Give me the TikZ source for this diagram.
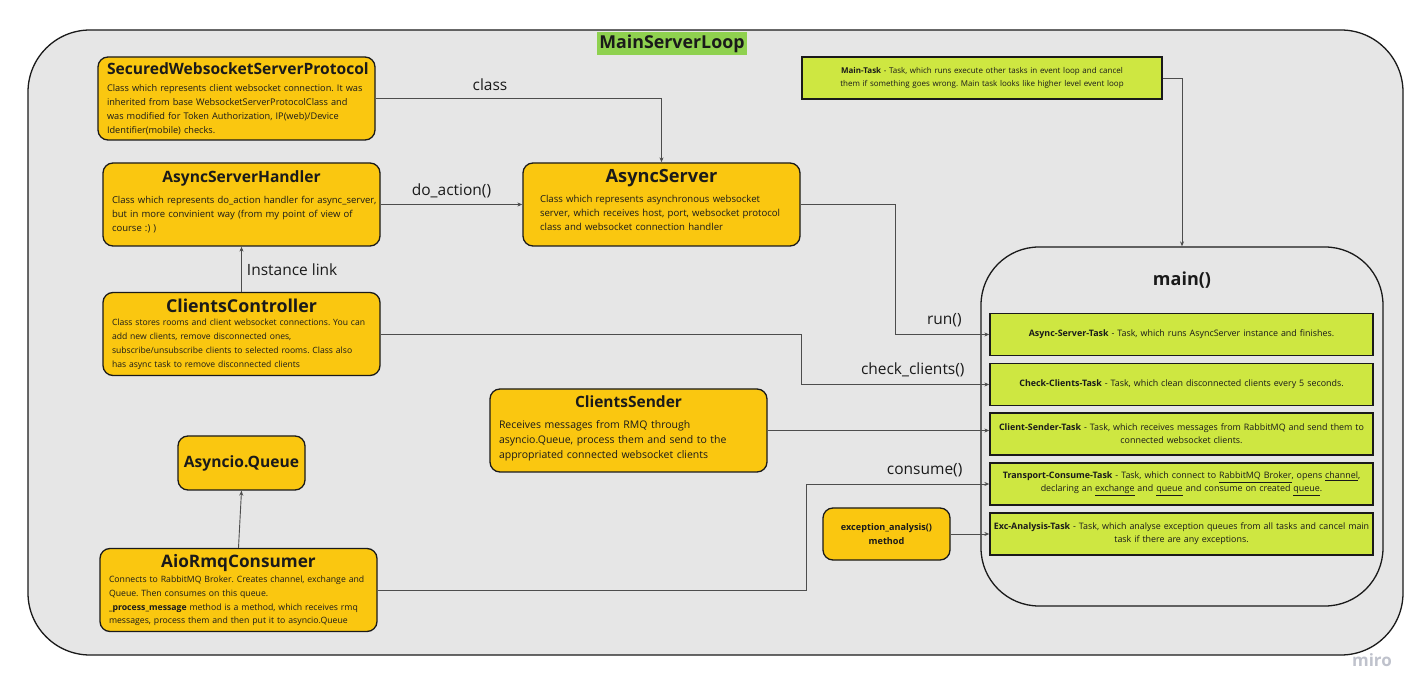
\documentclass[tikz,border=0pt]{standalone}
\usepackage{fontspec}
\setmainfont{Open Sans}
\frenchspacing
\usetikzlibrary{arrows.meta,positioning}
\definecolor{clsyellow}{HTML}{FAC710}
\definecolor{taskgreen}{HTML}{CEE741}
\definecolor{loopgreen}{HTML}{8FD14F}
\definecolor{loopgray}{HTML}{E6E6E6}
\definecolor{ink}{HTML}{1A1A1A}
\definecolor{wire}{HTML}{4D4D4D}
\definecolor{miromark}{HTML}{BFC2CC}

\begin{document}
\begin{tikzpicture}[x=1pt, y=-1pt,
      box/.style={draw=ink, line width=1.3pt, text=ink},
      ybox/.style={box, fill=clsyellow, rounded corners=10pt},
      cls/.style={ybox, align=left, text width=259pt, minimum height=83pt, inner xsep=9pt,
                  font=\fontsize{9.2}{13.8}\selectfont},
      task/.style={box, fill=taskgreen, align=center, text width=379pt, inner xsep=2pt,
                   minimum width=383pt, minimum height=42pt,
                   font=\fontsize{8.9}{13}\selectfont},
      cont/.style={draw=ink, line width=1.3pt, fill=loopgray},
      lbl/.style={font=\fontsize{15.5}{18}\selectfont, text=ink, inner sep=2pt},
      arr/.style={-{Stealth[length=5pt,width=4pt]}, wire, line width=0.9pt}]
    \useasboundingbox (0,0) rectangle (1428,700);
    % containers
    \node[cont, rounded corners=62pt, minimum width=1375pt, minimum height=625pt] (loop) at (715.5,342.5) {};
    \node[fill=loopgreen, inner xsep=2pt, inner ysep=2.5pt, font=\fontsize{17.8}{20}\selectfont\bfseries, text=ink] (looptitle) at (672,43.5) {MainServerLoop};
    \node[cont, rounded corners=58pt, minimum width=402pt, minimum height=359pt] (mainbox) at (1182,426.5) {};
    \node[font=\fontsize{18}{21}\selectfont\bfseries, text=ink] (maintitle) at (1182,280) {main()};

    % classes
    \node[cls] (swsp) at (236.5,98.5) {{\centering\fontsize{15.6}{19}\selectfont\bfseries SecuredWebsocketServerProtocol\par}\vspace{4pt}
      Class which represents client websocket connection. It was\\
      inherited from base WebsocketServerProtocolClass and\\
      was modified for Token Authorization, IP(web)/Device\\
      Identifier(mobile) checks.};
    \node[cls, font=\fontsize{9.5}{14}\selectfont] (ash) at (241.5,204.5) {{\centering\fontsize{15.6}{21}\selectfont\bfseries AsyncServerHandler\par}\vspace{7pt}
      \mbox{Class which represents do\_action handler for async\_server,}\\
      but in more convinient way (from my point of view of\\
      course :) )\par\vspace{5pt}};
    \node[cls, font=\fontsize{8.6}{13.8}\selectfont] (cc) at (241.5,334) {{\centering\fontsize{17.8}{20}\selectfont\bfseries ClientsController\par}
      Class stores rooms and client websocket connections. You can\\
      add new clients, remove disconnected ones,\\
      subscribe/unsubscribe clients to selected rooms. Class also\\
      has async task to remove disconnected clients};
    \node[cls, text width=243pt, inner xsep=17pt, font=\fontsize{9.6}{14}\selectfont] (as) at (661.5,204.5) {{\centering\fontsize{18.2}{22}\selectfont\bfseries AsyncServer\par}\vspace{6pt}
      Class which represents asynchronous websocket\\
      server, which receives host, port, websocket protocol\\
      class and websocket connection handler\par\vspace{9pt}};
    \node[cls, font=\fontsize{10.5}{15}\selectfont] (cs) at (628.5,430.5) {{\centering\fontsize{15.5}{19}\selectfont\bfseries ClientsSender\par}\vspace{6pt}
      Receives messages from RMQ through\\
      asyncio.Queue, process them and send to the\\
      appropriated connected websocket clients\par\vspace{4pt}};
    \node[ybox, minimum width=127pt, minimum height=54pt, font=\fontsize{15.6}{18}\selectfont\bfseries] (aq) at (241.5,463) {Asyncio.Queue};
    \node[cls, font=\fontsize{8.7}{13.7}\selectfont] (aio) at (238.5,590) {{\centering\fontsize{17.2}{20}\selectfont\bfseries AioRmqConsumer\par}\vspace{2pt}
      Connects to RabbitMQ Broker. Creates channel, exchange and\\
      Queue. Then consumes on this queue.\\
      \textbf{\_process\_message} method is a method, which receives rmq\\
      messages, process them and then put it to asyncio.Queue};
    \node[ybox, minimum width=127pt, minimum height=52pt, align=center, font=\fontsize{9.1}{14}\selectfont\bfseries] (exc) at (886.5,534) {exception\_analysis()\\method};

    % tasks
    \node[task, text width=350pt, minimum width=360pt, font=\fontsize{8}{13}\selectfont] (mt) at (982,78) {\textbf{Main-Task} - Task, which runs execute other tasks in event loop and cancel\\them if something goes wrong. Main task looks like higher level event loop};
    \node[task] (t1) at (1181.5,334.5) {\textbf{Async-Server-Task} - Task, which runs AsyncServer instance and finishes.};
    \node[task] (t2) at (1181.5,384.5) {\textbf{Check-Clients-Task} - Task, which clean disconnected clients every 5 seconds.};
    \node[task] (t3) at (1181.5,434) {\textbf{Client-Sender-Task} - Task, which receives messages from RabbitMQ and send them to\\connected websocket clients.};
    \node[task] (t4) at (1181.5,484) {\textbf{Transport-Consume-Task} - Task, which connect to \underline{RabbitMQ Broker}, opens \underline{channel},\\declaring an \underline{exchange} and \underline{queue} and consume on created \underline{queue}.};
    \node[task] (t5) at (1181.5,534) {\mbox{\textbf{Exc-Analysis-Task} - Task, which analyse exception queues from all tasks and cancel main}\\task if there are any exceptions.};

    % links
    \draw[arr] (swsp.east) -| (as.north) node[lbl, pos=0.2, above=5pt] {class};
    \draw[arr] (ash.east) -- (as.west) node[lbl, midway, above=4pt] {do\_action()};
    \draw[arr] (cc.north) -- (ash.south) node[lbl, midway, right=3pt] {Instance link};
    \draw[arr] (as.east) -- ++(95,0) |- (t1.west) node[lbl, pos=0.76, above=5pt] {run()};
    \draw[arr] (cc.east) -- ++(421,0) |- (t2.west) node[lbl, pos=0.796, above=5pt] {check\_clients()};
    \draw[arr] (cs.east) -- (cs.east -| t3.west);
    \draw[arr] (aio.east) -- ++(429,0) |- (t4.west) node[lbl, pos=0.823, above=5pt] {consume()};
    \draw[arr] (exc.east) -- (t5.west);
    \draw[arr] (aio.north) -- (aq.south);
    \draw[arr] (mt.east) -| (mainbox.north);

    \node[font=\fontsize{17}{20}\selectfont\bfseries, text=miromark] (miro) at (1372,660) {miro};
  \end{tikzpicture}
\end{document}
